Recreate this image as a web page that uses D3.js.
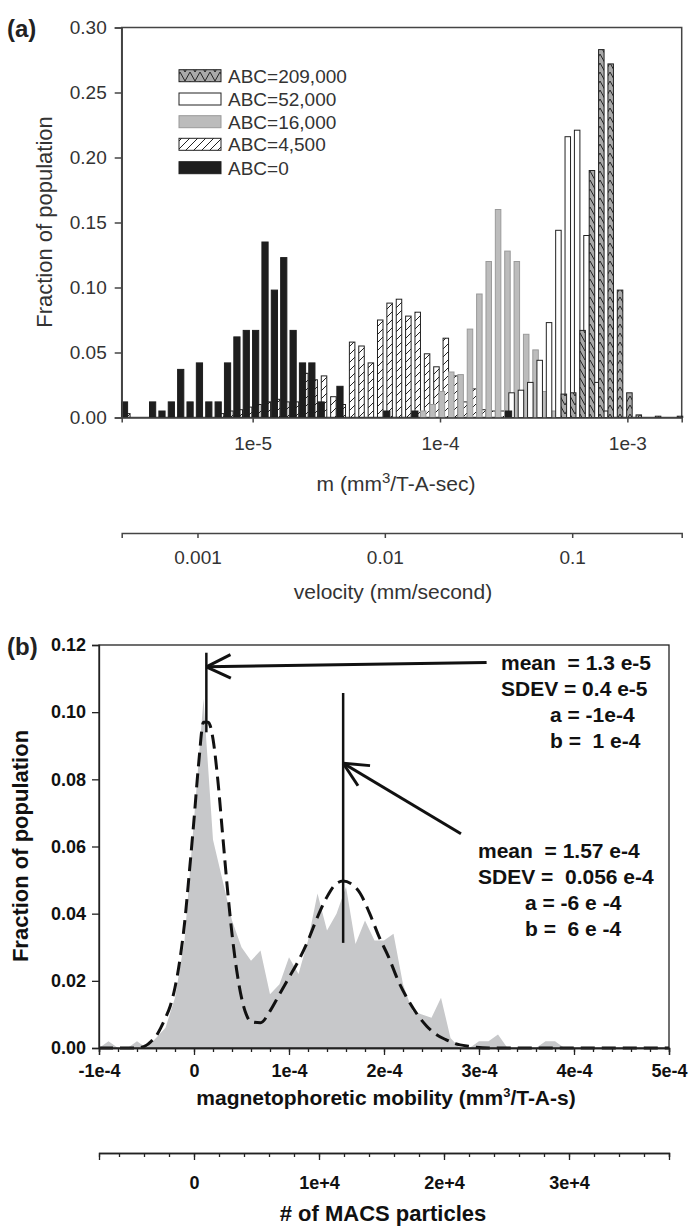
<!DOCTYPE html>
<html>
<head>
<meta charset="utf-8">
<script src="https://cdn.jsdelivr.net/npm/d3@7"></script>
<style>
  body { margin: 0; background: #fff; }
  svg { display: block; font-family: "Liberation Sans", Arial, sans-serif; }
  text { white-space: pre; }
</style>
</head>
<body>
<div id="chart"></div>
<script>
// ---------- panel (a): histogram of m (log10 of m, fraction) ----------
const legendNames = ["ABC=209,000", "ABC=52,000", "ABC=16,000", "ABC=4,500", "ABC=0"];

const abc0LogM = [-5.684, -5.534, -5.484, -5.434, -5.384, -5.334, -5.284, -5.234, -5.184, -5.134,
  -5.084, -5.034, -4.984, -4.934, -4.884, -4.834, -4.784, -4.734, -4.684, -4.634, -4.534,
  -4.284, -4.134, -3.634];
const abc0Frac = [0.012, 0.012, 0.005, 0.012, 0.037, 0.012, 0.042, 0.012, 0.012, 0.042,
  0.062, 0.067, 0.067, 0.135, 0.098, 0.123, 0.067, 0.042, 0.042, 0.012, 0.024,
  0.005, 0.005, 0.005];

const abc4500LogM = [-5.669, -5.169, -5.119, -5.069, -5.019, -4.969, -4.919, -4.869, -4.819, -4.769,
  -4.719, -4.669, -4.619, -4.569, -4.519, -4.469, -4.419, -4.369, -4.319, -4.269,
  -4.219, -4.169, -4.119, -4.069, -4.019, -3.969, -3.919, -3.869, -3.819, -3.769,
  -3.719, -3.669];
const abc4500Frac = [0.003, 0.003, 0.005, 0.006, 0.008, 0.010, 0.012, 0.014, 0.012, 0.012,
  0.034, 0.029, 0.032, 0.016, 0.010, 0.058, 0.055, 0.042, 0.075, 0.088,
  0.091, 0.078, 0.081, 0.049, 0.039, 0.061, 0.032, 0.012, 0.022, 0.006,
  0.005, 0.005];

const abc16kLogM = [-4.09, -4.04, -3.99, -3.94, -3.89, -3.84, -3.79, -3.74, -3.69, -3.64,
  -3.59, -3.54, -3.49, -3.44, -3.39, -3.34];
const abc16kFrac = [0.005, 0.010, 0.020, 0.035, 0.033, 0.068, 0.095, 0.120, 0.160, 0.128,
  0.120, 0.064, 0.052, 0.020, 0.005, 0.002];

const abc52kLogM = [-3.618, -3.568, -3.518, -3.468, -3.418, -3.368, -3.318, -3.268, -3.218, -3.168, -3.118];
const abc52kFrac = [0.019, 0.021, 0.027, 0.044, 0.073, 0.144, 0.216, 0.221, 0.140, 0.027, 0.005];

const abc209kLogM = [-3.339, -3.289, -3.239, -3.189, -3.139, -3.089, -3.039, -2.989, -2.939, -2.836, -2.719];
const abc209kFrac = [0.018, 0.019, 0.067, 0.190, 0.283, 0.272, 0.098, 0.019, 0.002, 0.001, 0.001];

const yTicksA = [0, 0.05, 0.10, 0.15, 0.20, 0.25, 0.30];
const mTicks = [1e-5, 1e-4, 1e-3];
const mTickLabels = ["1e-5", "1e-4", "1e-3"];
const velTicks = [0.001, 0.01, 0.1];
const velTickLabels = ["0.001", "0.01", "0.1"];
const velPerMobility = 197;   // mm/s per unit of m

// ---------- panel (b): mobility distribution ----------
// mobility in units of 1e-4
const mobX = [-1.0, -0.9, -0.8, -0.7, -0.6, -0.5, -0.4, -0.3, -0.2, -0.1,
  0.0, 0.1, 0.2, 0.3, 0.4, 0.5, 0.6, 0.7, 0.8, 0.9,
  1.0, 1.1, 1.2, 1.3, 1.4, 1.5, 1.6, 1.7, 1.8, 1.9,
  2.0, 2.1, 2.2, 2.3, 2.4, 2.5, 2.6, 2.7, 2.8, 2.9,
  3.0, 3.1, 3.2, 3.3, 3.4, 3.5, 3.6, 3.7, 3.8, 3.9];
const mobFrac = [0, 0.002, 0, 0, 0.002, 0, 0.003, 0.006, 0.015, 0.032,
  0.068, 0.104, 0.062, 0.050, 0.038, 0.030, 0.026, 0.029, 0.016, 0.019,
  0.027, 0.022, 0.032, 0.046, 0.035, 0.040, 0.048, 0.031, 0.038, 0.032,
  0.032, 0.034, 0.019, 0.011, 0.010, 0.009, 0.015, 0.003, 0, 0,
  0.002, 0.002, 0.004, 0, 0, 0, 0, 0.002, 0.002, 0];

const fitX = [-1.0, -0.6, -0.5, -0.45, -0.4, -0.35, -0.3, -0.25, -0.2, -0.15,
  -0.1, -0.05, 0, 0.05, 0.1, 0.15, 0.2, 0.25, 0.3, 0.35,
  0.4, 0.45, 0.5, 0.55, 0.6, 0.7, 0.8, 0.9, 1.0, 1.1,
  1.2, 1.3, 1.4, 1.5, 1.57, 1.65, 1.75, 1.85, 1.95, 2.05,
  2.15, 2.25, 2.35, 2.45, 2.55, 2.65, 2.75, 2.9, 3.1, 5.0];
const fitFrac = [0, 0, 0.0008, 0.002, 0.0035, 0.006, 0.009, 0.0125, 0.018, 0.026,
  0.037, 0.052, 0.068, 0.085, 0.097, 0.097, 0.092, 0.080, 0.064, 0.048,
  0.034, 0.023, 0.015, 0.010, 0.0078, 0.0075, 0.011, 0.016, 0.021, 0.026,
  0.032, 0.039, 0.045, 0.049, 0.0497, 0.049, 0.046, 0.040, 0.033, 0.027,
  0.020, 0.0145, 0.010, 0.0065, 0.004, 0.0025, 0.0013, 0.0005, 0, 0];

const yTicksB = [0, 0.02, 0.04, 0.06, 0.08, 0.10, 0.12];
const mobTicks = [-1e-4, 0, 1e-4, 2e-4, 3e-4, 4e-4, 5e-4];
const mobTickLabels = ["-1e-4", "0", "1e-4", "2e-4", "3e-4", "4e-4", "5e-4"];
const macsTicks = [0, 1e4, 2e4, 3e4];
const macsTickLabels = ["0", "1e+4", "2e+4", "3e+4"];
const macsDomain = [-7600, 38000];

// fit annotations
const fit1 = { mean: 1.3e-5, top: 0.1177, bottom: 0.094, tailX: 3.08e-4, tailY: 0.1148, tipY: 0.1135 };
const fit2 = { mean: 1.57e-4, top: 0.1057, bottom: 0.0313, tailX: 2.81e-4, tailY: 0.0638, tipY: 0.0848 };
const fit1Text = ["mean  = 1.3 e-5", "SDEV = 0.4 e-5", "a = -1e-4", "b =  1 e-4"];
const fit2Text = ["mean  = 1.57 e-4", "SDEV =  0.056 e-4", "a = -6 e -4", "b =  6 e -4"];

// ---------- setup ----------
const svg = d3.select("#chart").append("svg").attr("width", 691).attr("height", 1226);
const defs = svg.append("defs");

defs.append("pattern")
  .attr("id", "hatch")
  .attr("patternUnits", "userSpaceOnUse")
  .attr("width", 8).attr("height", 8)
  .append("path")
  .attr("d", "M0,8 L8,0 M-2,2 L2,-2 M6,10 L10,6")
  .attr("stroke", "#222").attr("stroke-width", 1);

const zig = defs.append("pattern")
  .attr("id", "zig")
  .attr("patternUnits", "userSpaceOnUse")
  .attr("width", 10).attr("height", 9);
zig.append("rect").attr("width", 10).attr("height", 9).attr("fill", "#a9a9a9");
zig.append("path").attr("d", "M0,0 L5,9 L10,0").attr("fill", "none")
  .attr("stroke", "#222").attr("stroke-width", 1);

const styles = {
  "ABC=209,000": { fill: "url(#zig)", stroke: "#222" },
  "ABC=52,000": { fill: "#fff", stroke: "#222" },
  "ABC=16,000": { fill: "#bcbcbc", stroke: "#9a9a9a" },
  "ABC=4,500": { fill: "url(#hatch)", stroke: "#222" },
  "ABC=0": { fill: "#1e1e1e", stroke: "#1e1e1e" }
};

// ================= PANEL (a) =================
const pa = { left: 121.7, right: 681.7, top: 27.5, bottom: 417.5 };
const xa = d3.scaleLog().domain([2.0e-6, 1.95e-3]).range([pa.left, pa.right]);
const ya = d3.scaleLinear().domain([0, 0.30]).range([pa.bottom, pa.top]);
const gA = svg.append("g").attr("fill", "#333");

// frame
gA.append("rect")
  .attr("x", pa.left).attr("y", pa.top)
  .attr("width", pa.right - pa.left).attr("height", pa.bottom - pa.top)
  .attr("fill", "none").attr("stroke", "#444").attr("stroke-width", 1.5);

const drawOrder = [
  ["ABC=4,500", abc4500LogM, abc4500Frac],
  ["ABC=16,000", abc16kLogM, abc16kFrac],
  ["ABC=52,000", abc52kLogM, abc52kFrac],
  ["ABC=209,000", abc209kLogM, abc209kFrac],
  ["ABC=0", abc0LogM, abc0Frac]
];
const barW = 5.5;
drawOrder.forEach(([name, logs, fracs]) => {
  const rows = logs.map((e, i) => ({ m: Math.pow(10, e), f: fracs[i] }));
  const w = name === "ABC=0" ? 6.2 : barW;
  gA.append("g").selectAll("rect").data(rows).enter().append("rect")
    .attr("x", d => Math.max(pa.left, xa(d.m) - w / 2))
    .attr("width", d => xa(d.m) + w / 2 - Math.max(pa.left, xa(d.m) - w / 2))
    .attr("y", d => ya(d.f))
    .attr("height", d => ya(0) - ya(d.f))
    .attr("fill", styles[name].fill)
    .attr("stroke", styles[name].stroke)
    .attr("stroke-width", 1);
});

// y axis
const yAxisA = gA.append("g").attr("transform", `translate(${pa.left},0)`)
  .call(d3.axisLeft(ya).tickValues(yTicksA).tickFormat(d3.format(".2f")).tickSize(7).tickPadding(8));
// x axis (m)
const xAxisA = gA.append("g").attr("transform", `translate(0,${pa.bottom})`)
  .call(d3.axisBottom(xa).tickValues(mTicks).tickFormat((d, i) => mTickLabels[i]).tickSize(5).tickPadding(14));
// velocity axis
const velY = 533;
const xv = d3.scaleLog()
  .domain([xa.domain()[0] * velPerMobility, xa.domain()[1] * velPerMobility])
  .range([pa.left, pa.right]);
const velAxis = gA.append("g").attr("transform", `translate(0,${velY})`)
  .call(d3.axisBottom(xv).tickValues(velTicks).tickFormat((d, i) => velTickLabels[i]).tickSize(5).tickPadding(13));

[yAxisA, xAxisA, velAxis].forEach(ax => {
  ax.select(".domain").attr("stroke", "#444").attr("stroke-width", 1.5);
  ax.selectAll(".tick line").attr("stroke", "#444").attr("stroke-width", 1.5);
  ax.selectAll("text").attr("font-size", 19).attr("fill", "#333").attr("font-family", null);
});

// x label
const mLabel = gA.append("text").attr("x", 396).attr("y", 491).attr("text-anchor", "middle")
  .attr("font-size", 21);
mLabel.append("tspan").text("m (mm");
mLabel.append("tspan").attr("dy", -8).attr("font-size", 15).text("3");
mLabel.append("tspan").attr("dy", 8).text("/T-A-sec)");

gA.append("text").attr("x", 393).attr("y", 599).attr("text-anchor", "middle").attr("font-size", 21)
  .text("velocity (mm/second)");

// y label
gA.append("text")
  .attr("transform", `translate(52,222) rotate(-90)`)
  .attr("text-anchor", "middle").attr("font-size", 22)
  .text("Fraction of population");

// panel tag
gA.append("text").attr("x", 7).attr("y", 37).attr("font-size", 24).attr("font-weight", "bold")
  .attr("fill", "#222").text("(a)");

// legend
const legendY = [75.7, 99, 121.7, 144.3, 167.7];
legendNames.forEach((name, i) => {
  gA.append("rect")
    .attr("x", 179).attr("y", legendY[i] - 6).attr("width", 42).attr("height", 12)
    .attr("fill", styles[name].fill).attr("stroke", styles[name].stroke).attr("stroke-width", 1);
  gA.append("text").attr("x", 228).attr("y", legendY[i] + 7).attr("font-size", 19).text(name);
});

// ================= PANEL (b) =================
const pb = { left: 99, right: 669, top: 645, bottom: 1048 };
const xb = d3.scaleLinear().domain([-1e-4, 5e-4]).range([pb.left, pb.right]);
const yb = d3.scaleLinear().domain([0, 0.12]).range([pb.bottom, pb.top]);
const gB = svg.append("g").attr("font-weight", "bold").attr("fill", "#111");

const histRows = mobX.map((x, i) => ({ x: x * 1e-4, f: mobFrac[i] }));
gB.append("path").datum(histRows)
  .attr("fill", "#c7c8ca")
  .attr("d", d3.area().x(d => xb(d.x)).y0(yb(0)).y1(d => yb(d.f)));

const fitRows = fitX.map((x, i) => ({ x: x * 1e-4, f: fitFrac[i] }));
gB.append("path").datum(fitRows)
  .attr("fill", "none").attr("stroke", "#111").attr("stroke-width", 3)
  .attr("stroke-dasharray", "14,7")
  .attr("d", d3.line().curve(d3.curveMonotoneX).x(d => xb(d.x)).y(d => yb(d.f)));

// frame
gB.append("rect")
  .attr("x", pb.left).attr("y", pb.top)
  .attr("width", pb.right - pb.left).attr("height", pb.bottom - pb.top)
  .attr("fill", "none").attr("stroke", "#222").attr("stroke-width", 1.3);

// axes
const yAxisB = gB.append("g").attr("transform", `translate(${pb.left},0)`)
  .call(d3.axisLeft(yb).tickValues(yTicksB).tickFormat(d3.format(".2f")).tickSize(7).tickPadding(6));
const xAxisB = gB.append("g").attr("transform", `translate(0,${pb.bottom})`)
  .call(d3.axisBottom(xb).tickValues(mobTicks).tickFormat((d, i) => mobTickLabels[i]).tickSize(7).tickPadding(9));
const xMinorB = gB.append("g").attr("transform", `translate(0,${pb.bottom})`)
  .call(d3.axisBottom(xb).ticks(30).tickFormat("").tickSize(4));

// MACS axis
const macsY = 1153;
const xm = d3.scaleLinear().domain(macsDomain).range([pb.left, pb.right]);
const macsAxis = gB.append("g").attr("transform", `translate(0,${macsY})`)
  .call(d3.axisBottom(xm).tickValues(macsTicks).tickFormat((d, i) => macsTickLabels[i]).tickSize(7).tickPadding(16));
const macsMinor = gB.append("g").attr("transform", `translate(0,${macsY})`)
  .call(d3.axisBottom(xm).tickValues(d3.range(-6000, 38001, 2000)).tickFormat("").tickSize(4));

[yAxisB, xAxisB, xMinorB, macsAxis, macsMinor].forEach(ax => {
  ax.select(".domain").attr("stroke", "#222").attr("stroke-width", 1.3);
  ax.selectAll(".tick line").attr("stroke", "#222").attr("stroke-width", 1.3);
  ax.selectAll("text").attr("font-size", 18).attr("fill", "#111").attr("font-family", null);
});

const mobLabel = gB.append("text").attr("x", 386).attr("y", 1105).attr("text-anchor", "middle")
  .attr("font-size", 21);
mobLabel.append("tspan").text("magnetophoretic mobility (mm");
mobLabel.append("tspan").attr("dy", -8).attr("font-size", 13).text("3");
mobLabel.append("tspan").attr("dy", 8).text("/T-A-s)");

gB.append("text")
  .attr("transform", `translate(28,846) rotate(-90)`)
  .attr("text-anchor", "middle").attr("font-size", 22)
  .text("Fraction of population");

gB.append("text").attr("x", 7).attr("y", 655).attr("font-size", 24).attr("fill", "#222").text("(b)");

gB.append("text").attr("x", 383).attr("y", 1221).attr("text-anchor", "middle").attr("font-size", 22)
  .text("# of MACS particles");

// annotations: fit markers and arrows
function arrow(g, x1, y1, x2, y2) {
  g.append("line").attr("x1", x1).attr("y1", y1).attr("x2", x2).attr("y2", y2)
    .attr("stroke", "#111").attr("stroke-width", 3);
  const ang = Math.atan2(y1 - y2, x1 - x2);
  [0.45, -0.45].forEach(da => {
    g.append("line")
      .attr("x1", x2).attr("y1", y2)
      .attr("x2", x2 + 27 * Math.cos(ang + da)).attr("y2", y2 + 27 * Math.sin(ang + da))
      .attr("stroke", "#111").attr("stroke-width", 3);
  });
}
[fit1, fit2].forEach(f => {
  gB.append("line")
    .attr("x1", xb(f.mean)).attr("x2", xb(f.mean))
    .attr("y1", yb(f.top)).attr("y2", yb(f.bottom))
    .attr("stroke", "#111").attr("stroke-width", 2.5);
  arrow(gB, xb(f.tailX), yb(f.tailY), xb(f.mean), yb(f.tipY));
});

const textBlocks = [
  { lines: fit1Text, x: [501, 501, 550, 550], y: 670 },
  { lines: fit2Text, x: [478, 478, 525, 525], y: 858 }
];
textBlocks.forEach(tb => {
  tb.lines.forEach((t, i) => {
    gB.append("text").attr("x", tb.x[i]).attr("y", tb.y + i * 26).attr("font-size", 21).text(t);
  });
});
</script>
</body>
</html>
